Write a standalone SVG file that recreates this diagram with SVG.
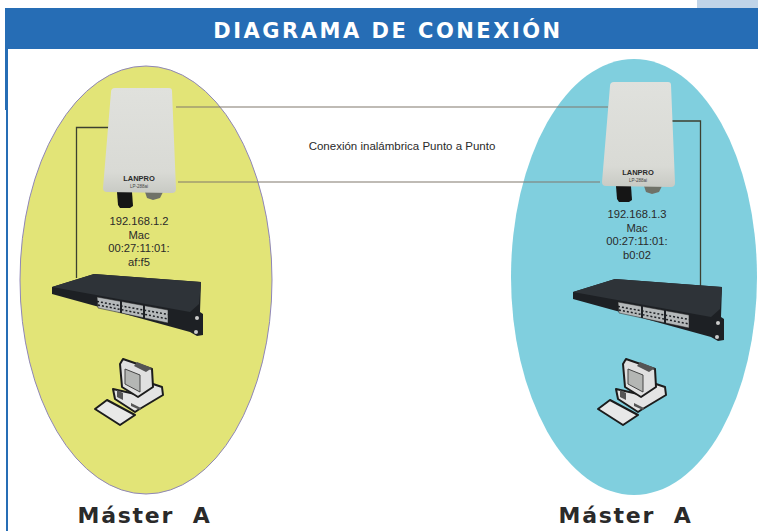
<svg xmlns="http://www.w3.org/2000/svg" xmlns:xlink="http://www.w3.org/1999/xlink" width="758" height="531" viewBox="0 0 758 531">
<style>
.f{font-family:"Liberation Sans",Arial,sans-serif}
.ip{font-size:11.2px;fill:#2a2a2a;text-anchor:middle}
.t{font-size:22px;font-weight:bold;fill:#2a2a2a;text-anchor:middle;letter-spacing:1.7px;font-family:"DejaVu Sans",sans-serif;white-space:pre}
.wire{fill:none;stroke:#80796c;stroke-width:1.2}
.cable{fill:none;stroke:#3c4030;stroke-width:1.3}
.o{stroke:#1c1c1c;stroke-width:2;stroke-linejoin:round}
</style>
<defs>
<linearGradient id="ap" x1="0" y1="0" x2="0" y2="1"><stop offset="0" stop-color="#e0e1dd"/><stop offset="0.8" stop-color="#d9dad5"/><stop offset="1" stop-color="#c8cac4"/></linearGradient>
<g id="apd">
<path d="M14 104H29L30 118 27 120H17L15 117Z" fill="#151515"/>
<path d="M42 104H60L57 110 50 112 44 110Z" fill="#6f7268"/>
<path d="M12 0H66Q69 0 69 3L73 101Q73 105 69 105L4 104Q0 104 0 100L8 4Q8 0 12 0Z" fill="url(#ap)"/>
<text x="36" y="93" text-anchor="middle" font-size="7.500" font-weight="bold" fill="#2a2a2a" font-family="'Liberation Sans',Arial,sans-serif">LANPRO</text>
<text x="36" y="100" text-anchor="middle" font-size="4.500" fill="#444" font-family="'Liberation Sans',Arial,sans-serif">LP-288ai</text>
</g>
<g id="swd">
<path d="M0 13L42 0 149 8 148 38 151 40 151 61 145 62 138 58 0 20Z" fill="#1d2024"/>
<path d="M42 0L149 8 147 30 138 38 0 13Z" fill="#2e3338"/>
<path d="M45 23L116 36 116 49 46 34Z" fill="#b5b9ba" stroke="#222" stroke-width=".5"/>
<path d="M45 27.500L116 40.500M46 31L116 45" stroke="#1d2024" stroke-width="1.500" stroke-dasharray="2 2" fill="none"/>
<path d="M69 27V39M92 31V44" stroke="#1d2024" stroke-width="2" fill="none"/>
<circle cx="145" cy="44" r="2" fill="#ccc"/><circle cx="144" cy="58" r="2" fill="#ccc"/>
</g>
<g id="pcd">
<path d="M0 51L12 42 40 57 25 67Z" fill="#e8e8e8" class="o"/>
<path d="M18 31L20 41 40 54 43 52 68 37 67 29 58 26 40 36Z" fill="#e4e4e4" class="o"/>
<path d="M25 6L28 1 57 11 58 29 43 39 27 29Z" fill="#e0e0e0" class="o"/>
<path d="M30 11L45 17V34L30 26Z" fill="#b4b6b4" stroke="#444" stroke-width="1"/>
<path d="M42 4L57 10 51 14 39 8Z" fill="#555"/>
<path d="M22 32L28 35V42L22 39ZM36 45L46 50 45 52 36 48Z" fill="#555"/>
</g>
</defs>
<rect width="758" height="531" fill="#fff"/>
<rect x="697" y="0" width="61" height="8" fill="#c0d4e8"/>
<rect x="5" y="8" width="753" height="41" fill="#266db5"/>
<rect x="6" y="49" width="2" height="482" fill="#266db5"/>
<rect x="5" y="49" width="1" height="61" fill="#266db5"/>
<text x="388" y="38" text-anchor="middle" font-size="21" font-weight="bold" fill="#fff" letter-spacing="2.5" font-family="'DejaVu Sans',sans-serif">DIAGRAMA DE CONEXIÓN</text>

<g id="zone-left"><ellipse cx="146" cy="280" rx="126" ry="214" fill="#e2e477" stroke="#8f86b8" stroke-width="1"/></g>
<g id="zone-right"><ellipse cx="634" cy="277" rx="123" ry="218" fill="#80cfde"/></g>

<g id="connectors">
<path class="wire" d="M176 107H608M178 182H600"/>
<path class="cable" d="M109 127.500H76.500V278"/>
<path class="cable" d="M672 121H700.500V288"/>
</g>

<g id="link-label"><text class="f" x="402" y="150" text-anchor="middle" font-size="11.500" fill="#2a2a2a">Conexión inalámbrica Punto a Punto</text></g>

<g id="ap-left"><use xlink:href="#apd" href="#apd" x="103" y="88"/>
<text class="f ip" x="139" y="225">192.168.1.2</text><text class="f ip" x="139" y="239">Mac</text><text class="f ip" x="139" y="252">00:27:11:01:</text><text class="f ip" x="139" y="266">af:f5</text></g>
<g id="ap-right"><use xlink:href="#apd" href="#apd" x="602" y="82"/>
<text class="f ip" x="637" y="218">192.168.1.3</text><text class="f ip" x="637" y="232">Mac</text><text class="f ip" x="637" y="245">00:27:11:01:</text><text class="f ip" x="637" y="259">b0:02</text></g>

<g id="switch-left"><use xlink:href="#swd" href="#swd" x="52" y="274"/></g>
<g id="switch-right"><use xlink:href="#swd" href="#swd" x="573" y="279"/></g>

<g id="pc-left"><use xlink:href="#pcd" href="#pcd" x="95" y="358"/></g>
<g id="pc-right"><use xlink:href="#pcd" href="#pcd" x="598" y="358"/></g>

<g id="label-left"><text class="t" x="144.500" y="523" xml:space="preserve">Máster  A</text></g>
<g id="label-right"><text class="t" x="625.500" y="523" xml:space="preserve">Máster  A</text></g>
</svg>
